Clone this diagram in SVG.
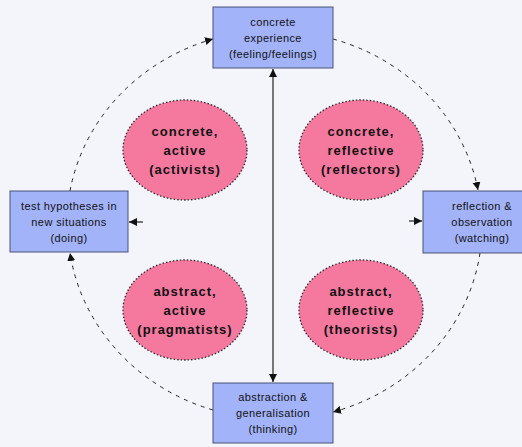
<svg xmlns="http://www.w3.org/2000/svg" width="522" height="447" viewBox="0 0 522 447">
<defs>
<marker id="ah" markerUnits="userSpaceOnUse" markerWidth="9" markerHeight="9" refX="8" refY="4" orient="auto-start-reverse">
<path d="M0,0 L8,4 L0,8 z" fill="#111"/>
</marker>
<style>
.box{fill:#a3b3fa;stroke:#4a5275;stroke-width:1}
.ell{fill:#f5789f;stroke:#2a2a2a;stroke-width:1.3;stroke-dasharray:1.5 2}
.bt{font-family:"Liberation Sans",Arial,sans-serif;font-size:11px;fill:#111;text-anchor:middle;letter-spacing:0.4px}
.et{font-family:"Liberation Sans",Arial,sans-serif;font-size:13px;font-weight:bold;fill:#111;text-anchor:middle;letter-spacing:1px}
.arc{fill:none;stroke:#222;stroke-width:1;stroke-dasharray:4 5}
.ln{fill:none;stroke:#222;stroke-width:1.2}
</style>
</defs>
<rect x="0" y="0" width="522" height="447" fill="#f3f5fa"/>
<g id="connectors">
<path class="arc" d="M333,39 A207,194 0 0 1 478,190" marker-end="url(#ah)"/>
<path class="arc" d="M480,253 A207,194 0 0 1 333,412" marker-end="url(#ah)"/>
<path class="arc" d="M213,410 A207,194 0 0 1 70,253" marker-end="url(#ah)"/>
<path class="arc" d="M70,191 A207,194 0 0 1 213,39" marker-end="url(#ah)"/>
<path class="ln" d="M273,69 L273,382" marker-start="url(#ah)" marker-end="url(#ah)"/>
<path class="ln" d="M409,221 L422,221" marker-end="url(#ah)"/>
<path class="ln" d="M143,222 L129,222" marker-end="url(#ah)"/>
</g>
<g id="ce">
<rect class="box" x="213" y="7" width="120" height="61"/>
<text class="bt" x="273" y="26">concrete</text>
<text class="bt" x="273" y="42">experience</text>
<text class="bt" x="273" y="58">(feeling/feelings)</text>
</g>
<g id="ro">
<rect class="box" x="423" y="191" width="118" height="62"/>
<text class="bt" x="482" y="210">reflection &amp;</text>
<text class="bt" x="482" y="226">observation</text>
<text class="bt" x="482" y="242">(watching)</text>
</g>
<g id="ac">
<rect class="box" x="213" y="383" width="120" height="60"/>
<text class="bt" x="273" y="401">abstraction &amp;</text>
<text class="bt" x="273" y="417">generalisation</text>
<text class="bt" x="273" y="433">(thinking)</text>
</g>
<g id="ae">
<rect class="box" x="10" y="191" width="118" height="61"/>
<text class="bt" x="69" y="210">test hypotheses in</text>
<text class="bt" x="69" y="226">new situations</text>
<text class="bt" x="69" y="242">(doing)</text>
</g>
<g id="activists">
<ellipse class="ell" cx="185" cy="150" rx="62" ry="50"/>
<text class="et" x="185" y="136">concrete,</text>
<text class="et" x="185" y="155">active</text>
<text class="et" x="185" y="174">(activists)</text>
</g>
<g id="reflectors">
<ellipse class="ell" cx="361" cy="150" rx="62" ry="50"/>
<text class="et" x="361" y="136">concrete,</text>
<text class="et" x="361" y="155">reflective</text>
<text class="et" x="361" y="174">(reflectors)</text>
</g>
<g id="pragmatists">
<ellipse class="ell" cx="185" cy="310" rx="62" ry="50"/>
<text class="et" x="185" y="296">abstract,</text>
<text class="et" x="185" y="315">active</text>
<text class="et" x="185" y="334">(pragmatists)</text>
</g>
<g id="theorists">
<ellipse class="ell" cx="361" cy="310" rx="62" ry="50"/>
<text class="et" x="361" y="296">abstract,</text>
<text class="et" x="361" y="315">reflective</text>
<text class="et" x="361" y="334">(theorists)</text>
</g>
</svg>
